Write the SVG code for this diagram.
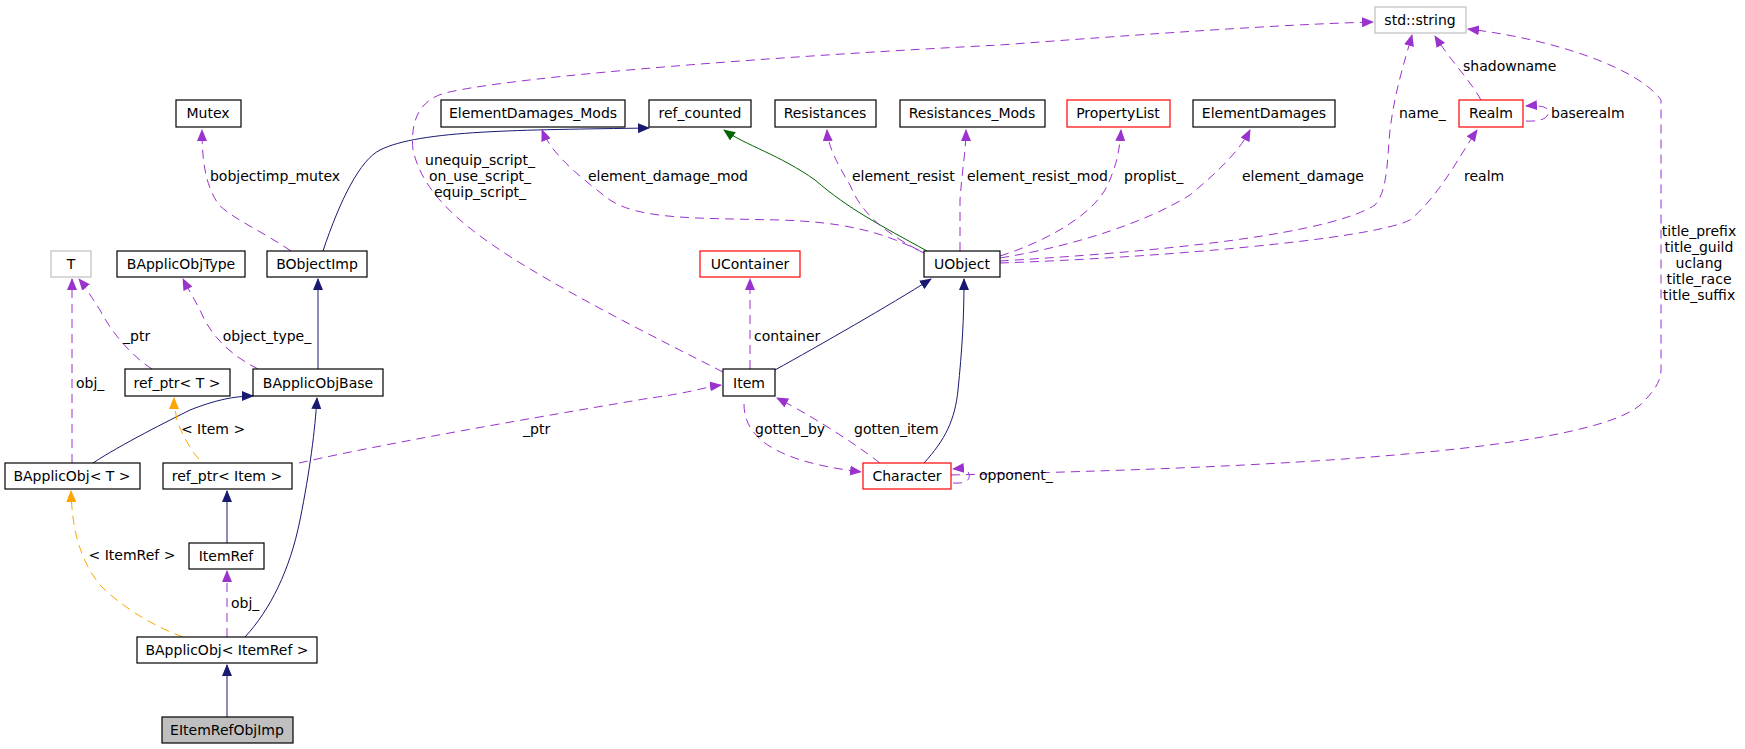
<svg xmlns="http://www.w3.org/2000/svg" width="1745" height="749" viewBox="0 0 1745 749">
<defs>
<style>
.n rect{fill:#fff;stroke:#000;stroke-width:1.2}
.n.r rect{stroke:#f00}
.n.g rect{stroke:#bfbfbf}
.n.s rect{fill:#bfbfbf}
text{font-family:"DejaVu Sans","Liberation Sans",sans-serif;font-size:14px;fill:#000}
.n text{text-anchor:middle}
.e path{fill:none;stroke-width:1}
.p{stroke:#9a32cd;stroke-dasharray:9,6;marker-end:url(#mp)}
.b{stroke:#191970;marker-end:url(#mb)}
.gr{stroke:#006400;marker-end:url(#mg)}
.o{stroke:#ffa500;stroke-dasharray:9,6;marker-end:url(#mo)}
.c{text-anchor:middle}
</style>
<marker id="mp" markerWidth="12" markerHeight="10" refX="11" refY="5" orient="auto" markerUnits="userSpaceOnUse"><path d="M0,0L12,5L0,10z" fill="#9a32cd"/></marker>
<marker id="mb" markerWidth="12" markerHeight="10" refX="11" refY="5" orient="auto" markerUnits="userSpaceOnUse"><path d="M0,0L12,5L0,10z" fill="#191970"/></marker>
<marker id="mg" markerWidth="12" markerHeight="10" refX="11" refY="5" orient="auto" markerUnits="userSpaceOnUse"><path d="M0,0L12,5L0,10z" fill="#006400"/></marker>
<marker id="mo" markerWidth="12" markerHeight="10" refX="11" refY="5" orient="auto" markerUnits="userSpaceOnUse"><path d="M0,0L12,5L0,10z" fill="#ffa500"/></marker>
</defs>
<rect width="1745" height="749" fill="#fff"/>
<g id="edges" class="e">
<path class="p" d="M291,251 C260,230 235,220 219,205 C205,185 202,160 202,130"/>
<path class="b" d="M323,251 C340,200 360,160 380,150 C420,130 520,130 649,128"/>
<path class="gr" d="M927,251 C880,225 850,210 815,180 C780,155 745,145 724,130"/>
<path class="p" d="M924,253 C880,230 840,222 780,220 C700,218 640,220 610,200 C570,170 550,150 542,130"/>
<path class="p" d="M918,250 C880,230 860,210 850,185 C835,160 828,145 827,130"/>
<path class="p" d="M960,251 L960,200 C962,170 966,150 966,130"/>
<path class="p" d="M1000,256 C1050,240 1090,215 1105,190 C1118,165 1120,145 1121,130"/>
<path class="p" d="M1000,258 C1080,245 1150,220 1190,195 C1220,170 1240,150 1250,130"/>
<path class="p" d="M1000,261 C1100,255 1320,240 1375,205 C1388,190 1387,160 1390,130 C1395,90 1405,60 1412,35"/>
<path class="p" d="M1000,263 C1150,258 1370,240 1410,220 C1440,195 1460,155 1477,130"/>
<path class="p" d="M723,372 C660,340 560,290 500,250 C440,210 420,180 413,150 C410,120 420,100 445,93 C520,75 800,55 1000,45 C1200,30 1300,24 1373,22"/>
<path class="p" d="M1481,100 C1470,80 1450,60 1435,36"/>
<path class="p" d="M1526,121 C1545,122 1549,116 1548,111 C1548,107 1540,105 1526,106"/>
<path class="p" d="M951,475 C1150,470 1600,460 1645,400 C1655,390 1661,380 1661,370 L1661,100 C1640,70 1560,40 1468,29"/>
<path class="p" d="M953,483 C969,484 970,478 969,474 C968,470 964,468 953,469"/>
<path class="p" d="M750,369 L750,279"/>
<path class="b" d="M775,370 C820,345 890,305 931,279"/>
<path class="b" d="M924,463 C945,440 955,420 958,390 C962,350 964,320 964,279"/>
<path class="p" d="M744,404 C744,440 780,462 861,472"/>
<path class="p" d="M880,463 C850,440 810,415 777,398"/>
<path class="p" d="M299,463 C400,440 580,410 650,398 C690,393 705,387 721,385"/>
<path class="b" d="M93,463 C120,445 170,420 190,410 C215,400 235,396 253,396"/>
<path class="p" d="M72,463 L72,279"/>
<path class="p" d="M152,369 C130,355 110,330 100,310 C90,295 84,285 79,279"/>
<path class="p" d="M258,369 C230,355 210,335 200,310 C192,295 186,285 183,279"/>
<path class="b" d="M318,369 L318,279"/>
<path class="o" d="M199,459 C190,450 180,430 177,420 C175,410 174,400 174,398"/>
<path class="o" d="M183,637 C150,625 120,605 100,585 C80,560 72,530 71,491"/>
<path class="p" d="M227,637 L227,571"/>
<path class="b" d="M245,637 C270,610 290,570 300,520 C310,470 315,430 317,398"/>
<path class="b" d="M227,543 L227,491"/>
<path class="b" d="M227,717 L227,665"/>
<text x="275" y="181" class="c">bobjectimp_mutex</text>
<text x="267" y="341" class="c">object_type_</text>
<text x="123" y="341">_ptr</text>
<text x="76" y="388">obj_</text>
<text x="480" y="165" class="c">unequip_script_</text>
<text x="480" y="181" class="c">on_use_script_</text>
<text x="480" y="197" class="c">equip_script_</text>
<text x="588" y="181">element_damage_mod</text>
<text x="852" y="181">element_resist</text>
<text x="967" y="181">element_resist_mod</text>
<text x="1124" y="181">proplist_</text>
<text x="1242" y="181">element_damage</text>
<text x="1399" y="118">name_</text>
<text x="1463" y="71">shadowname</text>
<text x="1551" y="118">baserealm</text>
<text x="1464" y="181">realm</text>
<text x="1699" y="236" class="c">title_prefix</text>
<text x="1699" y="252" class="c">title_guild</text>
<text x="1699" y="268" class="c">uclang</text>
<text x="1699" y="284" class="c">title_race</text>
<text x="1699" y="300" class="c">title_suffix</text>
<text x="754" y="341">container</text>
<text x="755" y="434">gotten_by</text>
<text x="854" y="434">gotten_item</text>
<text x="979" y="480">opponent_</text>
<text x="523" y="434">_ptr</text>
<text x="213" y="434" class="c">&lt; Item &gt;</text>
<text x="132" y="560" class="c">&lt; ItemRef &gt;</text>
<text x="231" y="608">obj_</text>
</g>
<g id="Mutex" class="n"><rect x="176" y="100" width="65" height="27"/><text x="208" y="118">Mutex</text></g>
<g id="ElementDamages_Mods" class="n"><rect x="441" y="100" width="184" height="27"/><text x="533" y="118">ElementDamages_Mods</text></g>
<g id="ref_counted" class="n"><rect x="649" y="100" width="102" height="27"/><text x="700" y="118">ref_counted</text></g>
<g id="Resistances" class="n"><rect x="775" y="100" width="101" height="27"/><text x="825" y="118">Resistances</text></g>
<g id="Resistances_Mods" class="n"><rect x="900" y="100" width="145" height="27"/><text x="972" y="118">Resistances_Mods</text></g>
<g id="PropertyList" class="n r"><rect x="1067" y="100" width="103" height="27"/><text x="1118" y="118">PropertyList</text></g>
<g id="ElementDamages" class="n"><rect x="1193" y="100" width="142" height="27"/><text x="1264" y="118">ElementDamages</text></g>
<g id="std_string" class="n g"><rect x="1375" y="7" width="91" height="26"/><text x="1420" y="25">std::string</text></g>
<g id="Realm" class="n r"><rect x="1459" y="100" width="64" height="27"/><text x="1491" y="118">Realm</text></g>
<g id="T" class="n g"><rect x="51" y="251" width="40" height="26"/><text x="71" y="269">T</text></g>
<g id="BApplicObjType" class="n"><rect x="117" y="251" width="128" height="26"/><text x="181" y="269">BApplicObjType</text></g>
<g id="BObjectImp" class="n"><rect x="267" y="251" width="100" height="26"/><text x="317" y="269">BObjectImp</text></g>
<g id="UContainer" class="n r"><rect x="700" y="251" width="100" height="26"/><text x="750" y="269">UContainer</text></g>
<g id="UObject" class="n"><rect x="924" y="251" width="76" height="26"/><text x="962" y="269">UObject</text></g>
<g id="ref_ptr_T" class="n"><rect x="125" y="369" width="105" height="27"/><text x="177" y="388">ref_ptr&lt; T &gt;</text></g>
<g id="BApplicObjBase" class="n"><rect x="253" y="369" width="130" height="27"/><text x="318" y="388">BApplicObjBase</text></g>
<g id="Item" class="n"><rect x="723" y="369" width="52" height="27"/><text x="749" y="388">Item</text></g>
<g id="BApplicObj_T" class="n"><rect x="5" y="463" width="135" height="26"/><text x="72" y="481">BApplicObj&lt; T &gt;</text></g>
<g id="ref_ptr_Item" class="n"><rect x="163" y="463" width="129" height="26"/><text x="227" y="481">ref_ptr&lt; Item &gt;</text></g>
<g id="Character" class="n r"><rect x="863" y="463" width="88" height="26"/><text x="907" y="481">Character</text></g>
<g id="ItemRef" class="n"><rect x="189" y="543" width="75" height="26"/><text x="226" y="561">ItemRef</text></g>
<g id="BApplicObj_ItemRef" class="n"><rect x="137" y="637" width="180" height="26"/><text x="227" y="655">BApplicObj&lt; ItemRef &gt;</text></g>
<g id="EItemRefObjImp" class="n s"><rect x="162" y="717" width="131" height="26"/><text x="227" y="735">EItemRefObjImp</text></g>
</svg>
